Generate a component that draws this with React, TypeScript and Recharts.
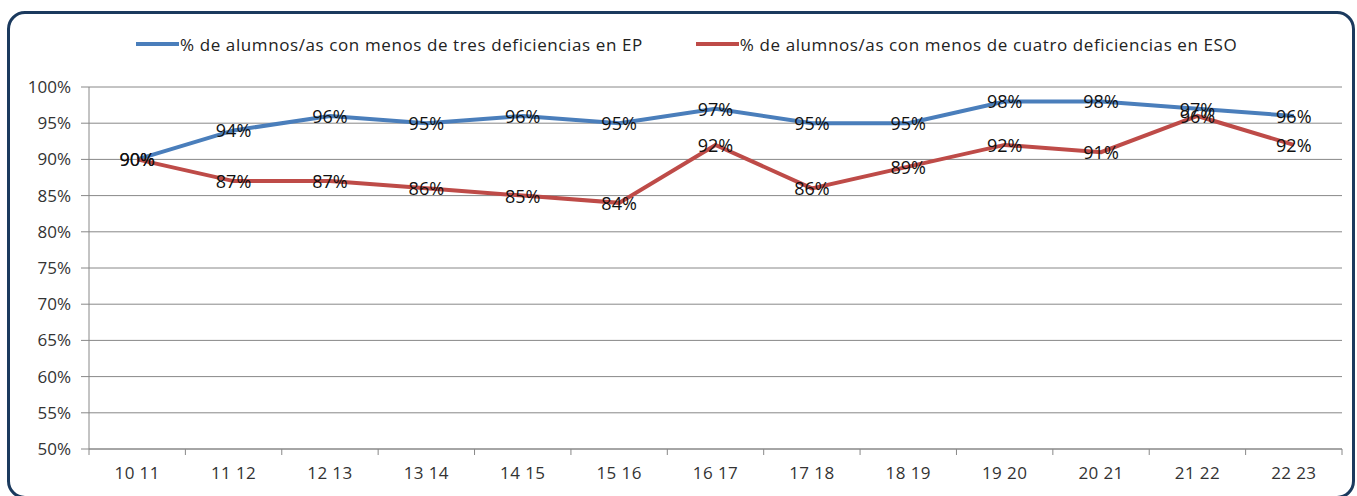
import { LineChart, Line, XAxis, YAxis, CartesianGrid, Legend, LabelList } from "recharts";

const categories = ["10 11", "11 12", "12 13", "13 14", "14 15", "15 16", "16 17", "17 18", "18 19", "19 20", "20 21", "21 22", "22 23"];
const epValues = [90, 94, 96, 95, 96, 95, 97, 95, 95, 98, 98, 97, 96];
const esoValues = [90, 87, 87, 86, 85, 84, 92, 86, 89, 92, 91, 96, 92];
const yTicks = [50, 55, 60, 65, 70, 75, 80, 85, 90, 95, 100];
const epName = "% de alumnos/as con menos de tres deficiencias en EP";
const esoName = "% de alumnos/as con menos de cuatro deficiencias en ESO";

const data = categories.map((cat, i) => ({ cat, ep: epValues[i], eso: esoValues[i] }));

const W = 1357;
const H = 496;
const M = { top: 67, right: 15, bottom: 0, left: 0 };
const Y_W = 89;
const X_H = 47;
const FONT = "'Open Sans', sans-serif";
const BLUE = "#4A7EBB";
const RED = "#BE4B48";
const GRID = "#888888";
const HALF_BAND = (W - M.left - M.right - Y_W) / categories.length / 2;

function XTick(props: any) {
  const { x, y, payload, index } = props;
  const last = index === categories.length - 1;
  return (
    <g>
      <line x1={x - HALF_BAND} x2={x - HALF_BAND} y1={y - 8} y2={y - 2} stroke={GRID} />
      {last && <line x1={x + HALF_BAND} x2={x + HALF_BAND} y1={y - 8} y2={y - 2} stroke={GRID} />}
      <text x={x} y={y + 15} textAnchor="middle" dominantBaseline="central" fill="#333" fontSize={17} fontFamily={FONT} letterSpacing={0.4}>
        {payload.value}
      </text>
    </g>
  );
}

function PointLabel(props: any) {
  const { x, y, value } = props;
  return (
    <text x={x} y={y} textAnchor="middle" dominantBaseline="central" fill="#111" fontSize={18} fontFamily={FONT}>
      {value}%
    </text>
  );
}

function LegendBox() {
  const item = (color: string, name: string, gap: number) => (
    <div style={{ display: "flex", alignItems: "center", marginRight: gap }}>
      <div style={{ width: 43, height: 4, background: color, marginRight: 1 }} />
      <span style={{ fontSize: 17, letterSpacing: 0.6, color: "#222", fontFamily: FONT, whiteSpace: "nowrap" }}>{name}</span>
    </div>
  );
  return (
    <div style={{ display: "flex", paddingLeft: 136, height: 20, alignItems: "center" }}>
      {item(BLUE, epName, 53)}
      {item(RED, esoName, 0)}
    </div>
  );
}

export default function App() {
  return (
    <div style={{ position: "absolute", left: 0, top: 0, width: W, height: H, background: "#fff", overflow: "hidden" }}>
      <div
        style={{
          position: "absolute",
          left: 7,
          top: 11,
          width: 1342,
          height: 482,
          border: "3px solid #1B3A5E",
          borderRadius: 18,
        }}
      />
      <LineChart width={W} height={H} data={data} margin={M} style={{ position: "absolute", left: 0, top: 0 }}>
        <CartesianGrid vertical={false} stroke={GRID} strokeWidth={1} />
        <Legend verticalAlign="top" align="left" content={<LegendBox />} wrapperStyle={{ top: 34, left: 0, width: W }} />
        <XAxis
          dataKey="cat"
          height={X_H}
          padding={{ left: HALF_BAND, right: HALF_BAND }}
          stroke={GRID}
          tickLine={false}
          tick={<XTick />}
          interval={0}
        />
        <YAxis
          width={Y_W}
          domain={[50, 100]}
          ticks={yTicks}
          stroke={GRID}
          tickSize={8}
          tickMargin={10}
          tickFormatter={(v) => `${v}%`}
          tick={{ fill: "#333", fontSize: 17, fontFamily: FONT }}
        />
        <Line dataKey="ep" name={epName} stroke={BLUE} strokeWidth={4} dot={false} isAnimationActive={false}>
          <LabelList dataKey="ep" content={<PointLabel />} />
        </Line>
        <Line dataKey="eso" name={esoName} stroke={RED} strokeWidth={4} dot={false} isAnimationActive={false}>
          <LabelList dataKey="eso" content={<PointLabel />} />
        </Line>
      </LineChart>
    </div>
  );
}
